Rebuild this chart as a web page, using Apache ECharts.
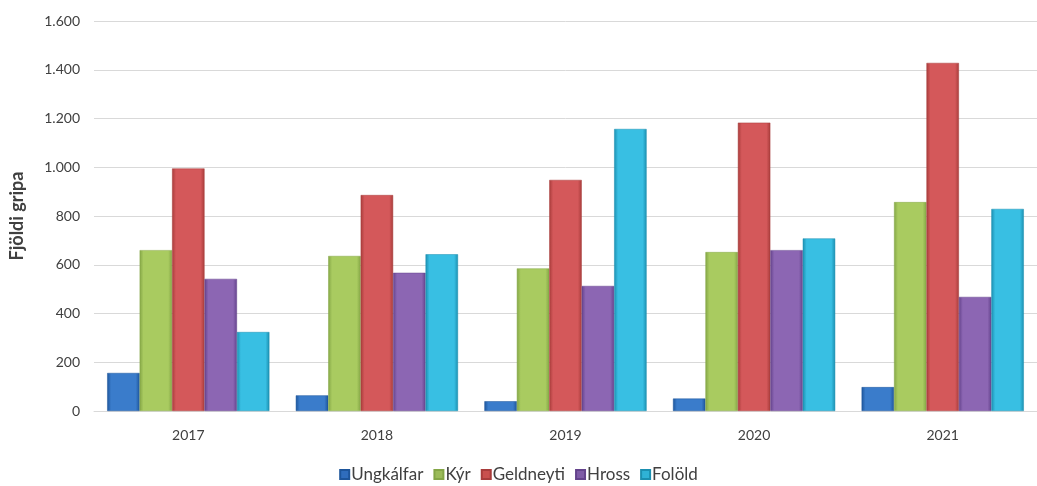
<!DOCTYPE html>
<html>
<head>
<meta charset="utf-8">
<script src="https://cdn.jsdelivr.net/npm/echarts@6/dist/echarts.min.js"></script>
<style>
html,body{margin:0;padding:0;background:#fff;}
#chart{width:1037px;height:486px;}
</style>
</head>
<body>
<div id="chart"></div>
<script>
var categories = ['2017', '2018', '2019', '2020', '2021'];
var seriesNames = ['Ungkálfar', 'Kýr', 'Geldneyti', 'Hross', 'Folöld'];
var ungkalfar = [156, 64, 40, 51, 98];
var kyr = [660, 636, 585, 652, 857];
var geldneyti = [995, 886, 948, 1183, 1428];
var hross = [542, 567, 513, 660, 468];
var folold = [324, 643, 1157, 708, 829];
var yTicks = [0, 200, 400, 600, 800, 1000, 1200, 1400, 1600];

var values = [ungkalfar, kyr, geldneyti, hross, folold];
var palette = [
  {mid: '#3a7ccb', edge: '#1d559b', legend: '#2f6dbd'},
  {mid: '#a9cb60', edge: '#84a646', legend: '#9bbb59'},
  {mid: '#d4585a', edge: '#a83c3b', legend: '#c9504e'},
  {mid: '#8c66b3', edge: '#64438c', legend: '#7e5ba6'},
  {mid: '#38bfe3', edge: '#1b8fb0', legend: '#2fb2d6'}
];

function grad(p) {
  return new echarts.graphic.LinearGradient(0, 0, 1, 0, [
    {offset: 0, color: p.edge},
    {offset: 0.12, color: p.mid},
    {offset: 0.88, color: p.mid},
    {offset: 1, color: p.edge}
  ]);
}

function fmt(v) {
  return String(v).replace(/\B(?=(\d{3})+(?!\d))/g, '.');
}

var chart = echarts.init(document.getElementById('chart'));
var series = seriesNames.map(function (name, i) {
  return {
    name: name,
    type: 'bar',
    data: values[i],
    barGap: '0%',
    barCategoryGap: '14%',
    itemStyle: {color: grad(palette[i]), borderColor: palette[i].edge, borderWidth: 0.5},
    emphasis: {disabled: true}
  };
});

chart.setOption({
  animation: false,
  backgroundColor: '#ffffff',
  textStyle: {fontFamily: 'Lato, "Open Sans", sans-serif'},
  color: palette.map(function (p) { return p.legend; }),
  grid: {left: 91, top: 21, width: 952, height: 390, containLabel: false},
  legend: {
    data: seriesNames.map(function (n, i) { return {name: n, itemStyle: {color: palette[i].legend}}; }),
    bottom: -2,
    left: 'center',
    icon: 'rect',
    itemWidth: 9,
    itemHeight: 9,
    itemGap: 10,
    textStyle: {color: '#404040', fontSize: 17, fontFamily: 'Lato, sans-serif', padding: [0, 0, 0, -3]}
  },
  xAxis: {
    type: 'category',
    data: categories,
    axisLine: {lineStyle: {color: '#d9d9d9'}},
    axisTick: {show: false},
    axisLabel: {color: '#404040', fontSize: 14, margin: 17, fontFamily: 'Lato, sans-serif'}
  },
  yAxis: {
    type: 'value',
    min: yTicks[0],
    max: yTicks[yTicks.length - 1],
    interval: 200,
    name: 'Fjöldi gripa',
    nameLocation: 'middle',
    nameGap: 68,
    nameTextStyle: {color: '#404040', fontSize: 18, fontWeight: 'bold', fontFamily: 'Lato, sans-serif'},
    axisLine: {show: false},
    axisTick: {show: false},
    axisLabel: {color: '#404040', fontSize: 14, margin: 14, formatter: function (v) { return fmt(v); }, fontFamily: 'Lato, sans-serif'},
    splitLine: {lineStyle: {color: '#d9d9d9', width: 1}}
  },
  series: series
});
</script>
</body>
</html>
